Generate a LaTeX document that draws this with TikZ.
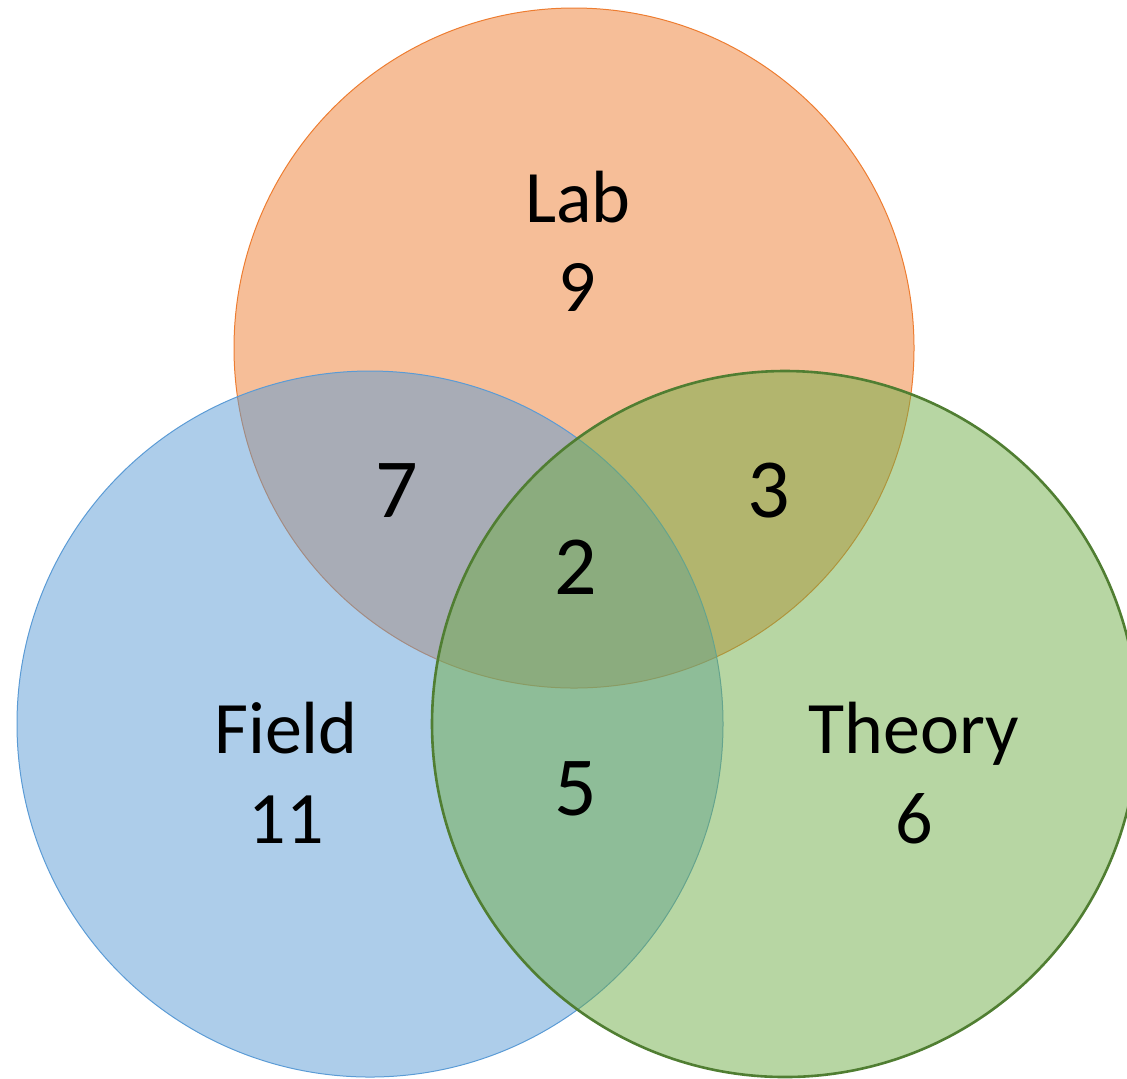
\documentclass[tikz,border=0pt]{standalone}
\usepackage{fontspec}
\setmainfont{Carlito}
\usetikzlibrary{positioning}
\definecolor{laborange}{HTML}{ED7D31}
\definecolor{fieldblue}{HTML}{5B9BD5}
\definecolor{theorygreen}{HTML}{70AD47}
\definecolor{theoryline}{HTML}{507E32}

\begin{document}
\begin{tikzpicture}[x=0.5pt, y=-0.5pt,
        setnode/.style={circle, inner sep=0pt, fill opacity=0.5, draw opacity=1},
        countnode/.style={anchor=base, inner sep=0pt, font=\fontsize{37}{44}\selectfont},
        sharednode/.style={countnode, font=\fontsize{42}{50}\selectfont}]
        \useasboundingbox (0,0) rectangle (1127,1078);
        \node[setnode, minimum size=340pt, fill=laborange, draw=laborange, line width=0.5pt] (lab) at (574,348) {};
        \node[setnode, minimum size=353pt, fill=fieldblue, draw=fieldblue, line width=0.5pt] (field) at (370,724) {};
        \node[setnode, minimum size=353pt, fill=theorygreen, draw=theoryline, line width=1.3pt] (theory) at (785,724) {};
        \node[countnode] (labname) at (578,222) {Lab};
        \node[countnode] (labonly) at (577,311) {9};
        \node[countnode] (fieldname) at (286,753) {Field};
        \node[countnode] (fieldonly) at (286,843) {11};
        \node[countnode] (theoryname) at (914,753) {Theory};
        \node[countnode] (theoryonly) at (914,843) {6};
        \node[sharednode] (labfield) at (397,517) {7};
        \node[sharednode] (labtheory) at (769,517) {3};
        \node[sharednode] (allthree) at (576,594) {2};
        \node[sharednode] (fieldtheory) at (576,815) {5};
\end{tikzpicture}
\end{document}
